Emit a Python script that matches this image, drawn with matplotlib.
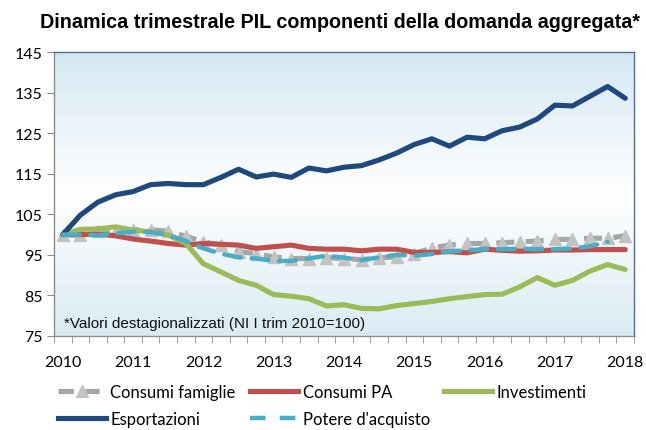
import numpy as np
import matplotlib
matplotlib.use("Agg")
import matplotlib.pyplot as plt
from matplotlib.lines import Line2D

# ---- data ----
years = ["2010", "2011", "2012", "2013", "2014", "2015", "2016", "2017", "2018"]
consumi_famiglie = [100, 99.8, 100.8, 101.0, 101.2, 101.2, 100.8, 99.6, 98.2, 97.4, 95.8, 95.3,
                    94.5, 94.1, 94.1, 94.3, 94.1, 93.8, 94.3, 94.5, 95.3, 96.7, 97.4, 97.8,
                    97.8, 98.0, 98.2, 98.4, 98.8, 98.8, 99.1, 99.1, 99.7]
consumi_pa = [100, 100.0, 100.1, 99.7, 98.9, 98.4, 97.8, 97.4, 97.8, 97.6, 97.4, 96.6,
              97.0, 97.4, 96.6, 96.4, 96.4, 96.0, 96.4, 96.4, 95.6, 95.6, 95.8, 95.5,
              96.4, 96.1, 95.9, 96.0, 96.2, 96.2, 96.3, 96.3, 96.3]
investimenti = [100, 101.3, 101.4, 101.9, 101.1, 100.7, 99.9, 97.8, 92.8, 90.8, 88.7, 87.5,
                85.2, 84.8, 84.2, 82.4, 82.7, 81.8, 81.7, 82.5, 83.0, 83.5, 84.2, 84.7,
                85.2, 85.3, 87.1, 89.4, 87.5, 88.7, 91.0, 92.6, 91.4]
esportazioni = [100, 104.8, 108.0, 109.8, 110.6, 112.3, 112.6, 112.3, 112.3, 114.1, 116.1, 114.2,
                114.9, 114.1, 116.4, 115.7, 116.6, 117.0, 118.4, 120.1, 122.2, 123.6, 121.8, 124.0,
                123.6, 125.6, 126.5, 128.5, 131.9, 131.7, 134.1, 136.5, 133.6]
potere_acquisto = [100, 100.0, 99.8, 100.3, 100.7, 100.6, 99.9, 98.4, 96.6, 95.3, 94.4, 94.1,
                   93.5, 93.5, 94.1, 94.8, 94.3, 93.7, 94.4, 95.0, 94.8, 95.2, 95.9, 96.1,
                   96.4, 96.4, 96.5, 96.4, 96.4, 96.6, 97.1, 98.2, np.nan]
y_ticks = [75, 85, 95, 105, 115, 125, 135, 145]

TICK_FONT = "Lato"
ARIAL = "Liberation Sans"

fig = plt.figure(figsize=(6.46, 4.31), dpi=100)
ax = fig.add_axes([54 / 646, 1 - 337 / 431, 580 / 646, 284 / 431])

n = len(esportazioni)
x = np.arange(n)

# background gradient: light blue top/bottom, white middle
top = np.array([212, 232, 242]) / 255
mid = np.array([255, 255, 255]) / 255
bot = np.array([218, 235, 243]) / 255
t = np.linspace(0, 1, 256)[:, None]
grad = np.where(t < 0.5, top + (mid - top) * (t / 0.5), mid + (bot - mid) * ((t - 0.5) / 0.5))
ax.imshow(grad[:, None, :], extent=[-0.5, n - 0.5, 75, 145], aspect="auto", zorder=0,
          origin="upper")

lw = 3.7
ax.plot(x, consumi_famiglie, color="#a6a6a6", lw=lw, dashes=(3.5, 2.2),
        marker="^", markersize=8, markerfacecolor="#c3c3c3", markeredgecolor="#c3c3c3",
        zorder=2)
ax.plot(x, consumi_pa, color="#c0504d", lw=lw, zorder=3, solid_capstyle="round")
ax.plot(x, investimenti, color="#9bbb59", lw=lw, zorder=3, solid_capstyle="round")
ax.plot(x, esportazioni, color="#1f497d", lw=lw, zorder=4, solid_capstyle="round")
ax.plot(x, potere_acquisto, color="#4bacc6", lw=3.2, dashes=(3.8, 2.4), zorder=5,
        dash_capstyle="round")

ax.set_xlim(-0.5, n - 0.5)
ax.set_ylim(75, 145)

# spines
for s in ["top", "right"]:
    ax.spines[s].set_color("#4f6f9a")
    ax.spines[s].set_linewidth(1.0)
for s in ["left", "bottom"]:
    ax.spines[s].set_color("#8c8c8c")
    ax.spines[s].set_linewidth(1.0)

ax.set_yticks(y_ticks)
ax.set_yticklabels([str(v) for v in y_ticks], fontsize=11.5, family=TICK_FONT)
ax.tick_params(axis="y", direction="out", length=5, color="#8c8c8c", pad=3)

ax.set_xticks(np.arange(0, n, 4))
ax.set_xticklabels(years, fontsize=11.5, family=TICK_FONT)
ax.set_xticks(np.arange(-0.5, n, 1), minor=True)
ax.tick_params(axis="x", which="major", length=0, pad=14)
ax.tick_params(axis="x", which="minor", direction="out", length=5, color="#8c8c8c")

ax.text(0.017, 0.045, "*Valori destagionalizzati (NI I trim 2010=100)", transform=ax.transAxes,
        fontsize=11, family=ARIAL, ha="left", va="center", color="#111111")

fig.text(340 / 646, 1 - 22 / 431, "Dinamica trimestrale PIL componenti della domanda aggregata*",
         fontsize=14.2, fontweight="bold", family=ARIAL, ha="center", va="center")

h_fam = Line2D([], [], color="#a6a6a6", lw=lw, dashes=(3.0, 2.0), marker="^", markersize=8,
               markerfacecolor="#c3c3c3", markeredgecolor="#c3c3c3")
h_pa = Line2D([], [], color="#c0504d", lw=lw)
h_inv = Line2D([], [], color="#9bbb59", lw=lw)
h_esp = Line2D([], [], color="#1f497d", lw=lw)
h_pot = Line2D([], [], color="#4bacc6", lw=3.2, dashes=(3.5, 3.2))
# column-major fill -> rows: (famiglie, PA, Investimenti), (Esportazioni, Potere)
handles = [h_fam, h_esp, h_pa, h_pot, h_inv]
labels = ["Consumi famiglie", "Esportazioni", "Consumi PA", "Potere d'acquisto", "Investimenti"]
fig.legend(handles, labels, loc="upper left", bbox_to_anchor=(58 / 646, 1 - 385 / 431),
           ncol=3, frameon=False, prop={"family": TICK_FONT, "size": 12},
           handlelength=2.9, handletextpad=0.25, columnspacing=0.85, labelspacing=0.65,
           borderpad=0, borderaxespad=0, numpoints=1)

fig.savefig("out.png", dpi=100)
